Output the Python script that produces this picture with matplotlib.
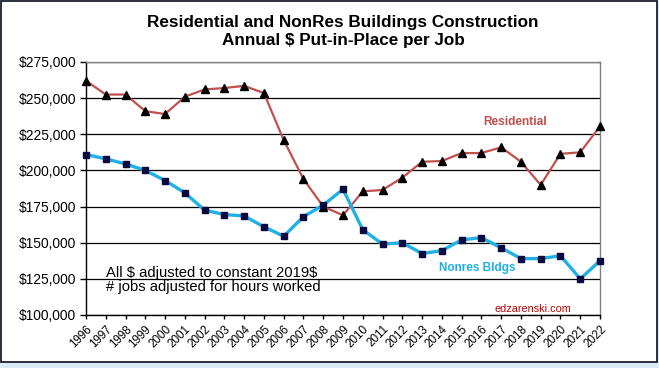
import matplotlib
matplotlib.use("Agg")
import matplotlib.pyplot as plt
from matplotlib.patches import Rectangle
from matplotlib.ticker import FuncFormatter, MultipleLocator

plt.rcParams['font.family'] = ['Liberation Sans', 'DejaVu Sans']
plt.rcParams['text.parse_math'] = False

years = list(range(1996, 2023))
residential = [262000, 252500, 252500, 241000, 239000, 251000, 256000, 257000, 258500, 253500,
               221000, 194000, 175000, 169000, 185500, 186500, 195000, 206000, 206500, 212000,
               212000, 216000, 206000, 190000, 211500, 212500, 230500]
nonres = [211000, 208000, 204500, 200000, 193000, 184500, 172500, 169500, 168500, 161000,
          154500, 168000, 176000, 187000, 159000, 149000, 150000, 142500, 144500, 152000,
          153500, 146500, 139000, 139000, 141000, 125000, 137500]

fig = plt.figure(figsize=(6.59, 3.68), dpi=100)
fig.patch.set_facecolor('#DDEBF7')
# white chart area with dark frame
fig.patches.append(Rectangle((1/659, 1 - 362/368), 656/659, 361/368, transform=fig.transFigure,
                             facecolor='white', edgecolor='#0A0A1E', linewidth=1.2, zorder=-5))

ax = fig.add_axes([86/659, 1 - 315/368, 514/659, 253/368])
ax.set_zorder(2)
ax.set_facecolor('white')

ax.plot(years, residential, color='#C0504D', linewidth=1.6, marker='^', markersize=6,
        markerfacecolor='black', markeredgecolor='black', zorder=3, clip_on=False)
ax.plot(years, nonres, color='#1FB0E6', linewidth=2.4, marker='s', markersize=4.5,
        markerfacecolor='#0A0A40', markeredgecolor='#0A0A40', zorder=4, clip_on=False)

ax.set_xlim(1996, 2022)
ax.set_ylim(100000, 275000)
ax.yaxis.set_major_locator(MultipleLocator(25000))
ax.yaxis.set_major_formatter(FuncFormatter(lambda v, p: '${:,.0f}'.format(v)))
ax.set_xticks(years)
ax.set_xticklabels([str(y) for y in years], rotation=45, ha='right', rotation_mode='anchor',
                   fontsize=8.4)
ax.tick_params(axis='y', labelsize=9.9, direction='out', length=4, width=1, pad=3)
ax.tick_params(axis='x', direction='out', length=3, width=1, pad=3)

ax.grid(axis='y', color='black', linewidth=0.9)
ax.set_axisbelow(True)
for s in ['top', 'right']:
    ax.spines[s].set_color('#808080')
    ax.spines[s].set_linewidth(1)
for s in ['left', 'bottom']:
    ax.spines[s].set_color('black')
    ax.spines[s].set_linewidth(1)

fig.text(343/659, 1 - 22/368, 'Residential and NonRes Buildings Construction',
         ha='center', va='center', fontsize=12.3, fontweight='bold')
fig.text(343/659, 1 - 40/368, 'Annual $ Put-in-Place per Job',
         ha='center', va='center', fontsize=12.3, fontweight='bold')

ax.text(2017.7, 233500, 'Residential', color='#C0504D', fontsize=8.6, fontweight='bold',
        ha='center', va='center')
ax.text(2015.8, 132700, 'Nonres Bldgs', color='#1FB0E6', fontsize=8.5, fontweight='bold',
        ha='center', va='center')
ax.text(1997.0, 124200, 'All $ adjusted to constant 2019$\n# jobs adjusted for hours worked',
        color='black', fontsize=10.6, ha='left', va='center', linespacing=1.05)
ax.text(2018.6, 104300, 'edzarenski.com', color='#C00000', fontsize=7.8, ha='center', va='center')

fig.savefig('out.png', dpi=100, facecolor=fig.get_facecolor())
